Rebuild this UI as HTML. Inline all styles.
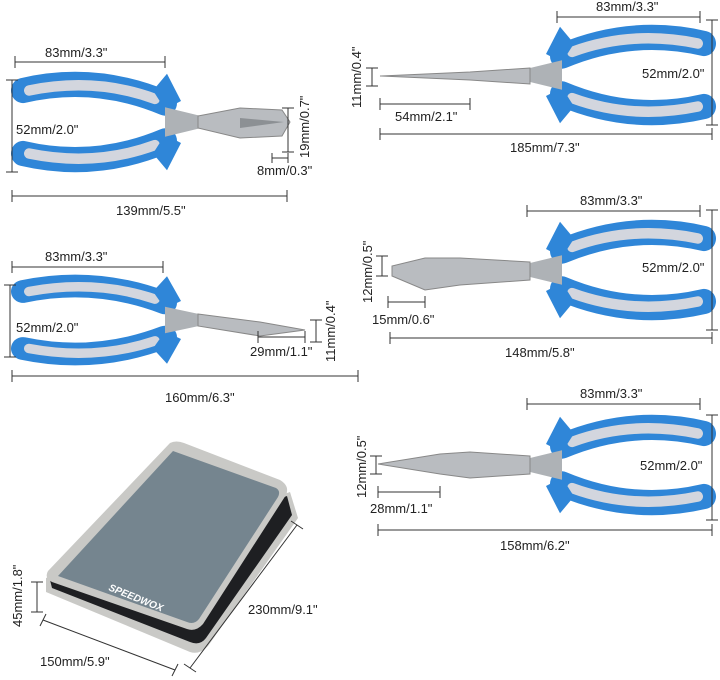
<!DOCTYPE html>
<html><head><meta charset="utf-8"><style>
html,body{margin:0;padding:0;background:#fff}
svg{display:block}
text{font-family:"Liberation Sans",sans-serif;font-size:13px;fill:#222}
.d{stroke:#333;stroke-width:1;fill:none}
</style></head><body>
<svg width="720" height="680" viewBox="0 0 720 680" xmlns="http://www.w3.org/2000/svg">
<defs>
<g id="pl">
 <path d="M8,-30 Q80,-46 150,-18" stroke="#2f86d8" stroke-width="24" fill="none" stroke-linecap="round"/>
 <path d="M14,-30 Q80,-43 140,-22" stroke="#d3d6de" stroke-width="10" fill="none" stroke-linecap="round"/>
 <path d="M8,30 Q80,46 150,18" stroke="#2f86d8" stroke-width="24" fill="none" stroke-linecap="round"/>
 <path d="M14,30 Q80,43 140,22" stroke="#d3d6de" stroke-width="10" fill="none" stroke-linecap="round"/>
 <path d="M138,-30 L152,-46 L166,-20 L150,-12Z" fill="#2f86d8"/>
 <path d="M138,30 L152,46 L166,20 L150,12Z" fill="#2f86d8"/>
 <path d="M150,-14 L185,-6 L185,6 L150,14Z" fill="#aeb2b6"/>
</g>
</defs>

<use href="#pl" transform="translate(15,122) scale(1,1.05)"/>
<path d="M198,116 L240,108 L282,110 L290,122 L282,136 L240,138 L198,128Z" fill="#b9bcc0" stroke="#888" stroke-width="1"/>
<path d="M240,118 L284,122 L240,128Z" fill="#8c9094"/>
<use href="#pl" transform="translate(15,320) scale(1,0.95)"/>
<path d="M198,314 L260,322 L305,330 L260,336 L198,326Z" fill="#b9bcc0" stroke="#888" stroke-width="1"/>
<use href="#pl" transform="translate(712,75) scale(-1,1.05)"/>
<path d="M530,68 L470,72 L380,76 L470,80 L530,84Z" fill="#b9bcc0" stroke="#888" stroke-width="1"/>
<use href="#pl" transform="translate(712,270) scale(-1,1.05)"/>
<path d="M530,262 L460,258 L425,258 L392,266 L392,276 L425,290 L460,285 L530,280Z" fill="#b9bcc0" stroke="#888" stroke-width="1"/>
<use href="#pl" transform="translate(712,465) scale(-1,1.05)"/>
<path d="M530,456 L470,452 L440,454 L378,464 L440,474 L470,478 L530,474Z" fill="#b9bcc0" stroke="#888" stroke-width="1"/>

<!-- Case -->
<path d="M46,578 L46,592 L190,652 Q200,655 208,646 L298,518 L290,492 Z" fill="#c9c9c6"/>
<path d="M50,580 L52,588 L190,642 Q200,646 206,638 L292,515 L287,496 Z" fill="#1e1f22"/>
<path d="M170,443 Q176,440 184,443 L280,480 Q290,486 286,495 L203,624 Q196,632 187,629 L52,582 Q44,578 48,571Z" fill="#c9c9c6"/>
<path d="M173,451 L276,488 Q281,491 278,497 L199,619 Q194,625 187,622 L58,576 Z" fill="#75858f"/>
<text x="108" y="590" transform="rotate(22 108 590)" style="font-size:10px;font-weight:bold;font-style:italic;fill:#fff">SPEEDWOX</text>

<g class="d">
<path d="M15,62H165M15,56v12M165,56v12"/>
<path d="M12,80V172M6,80h12M6,172h12"/>
<path d="M288,108V152M282,108h12M282,152h12"/>
<path d="M272,158h16M272,153v10M288,153v10"/>
<path d="M12,196H287M12,190v12M287,190v12"/>
<path d="M557,17H700M557,11v12M700,11v12"/>
<path d="M372,68V86M366,68h12M366,86h12"/>
<path d="M712,20V125M706,20h12M706,125h12"/>
<path d="M380,104H470M380,98v12M470,98v12"/>
<path d="M380,134H712M380,128v12M712,128v12"/>
<path d="M12,267H163M12,261v12M163,261v12"/>
<path d="M10,285V357M4,285h12M4,357h12"/>
<path d="M316,320V342M310,320h12M310,342h12"/>
<path d="M258,337H305M258,331v12M305,331v12"/>
<path d="M12,376H358M12,370v12M358,370v12"/>
<path d="M527,211H700M527,205v12M700,205v12"/>
<path d="M382,256V276M376,256h12M376,276h12"/>
<path d="M712,210V330M706,210h12M706,330h12"/>
<path d="M388,302H425M388,296v12M425,296v12"/>
<path d="M390,338H712M390,332v12M712,332v12"/>
<path d="M527,404H700M527,398v12M700,398v12"/>
<path d="M376,456V474M370,456h12M370,474h12"/>
<path d="M712,415V520M706,415h12M706,520h12"/>
<path d="M378,492H440M378,486v12M440,486v12"/>
<path d="M378,530H712M378,524v12M712,524v12"/>
<path d="M37,582V612M31,582h12M31,612h12"/>
<path d="M43,620L175,670M40,626l6,-12M172,676l6,-12"/>
<path d="M190,668L297,525M184,664l12,8M291,521l12,8"/>
</g>

<text x="45" y="57">83mm/3.3"</text>
<text x="16" y="134">52mm/2.0"</text>
<text transform="translate(309,158) rotate(-90)">19mm/0.7"</text>
<text x="257" y="175">8mm/0.3"</text>
<text x="116" y="215">139mm/5.5"</text>
<text x="596" y="11">83mm/3.3"</text>
<text transform="translate(361,108) rotate(-90)">11mm/0.4"</text>
<text x="642" y="78">52mm/2.0"</text>
<text x="395" y="121">54mm/2.1"</text>
<text x="510" y="152">185mm/7.3"</text>
<text x="45" y="261">83mm/3.3"</text>
<text x="16" y="332">52mm/2.0"</text>
<text transform="translate(335,362) rotate(-90)">11mm/0.4"</text>
<text x="250" y="356">29mm/1.1"</text>
<text x="165" y="402">160mm/6.3"</text>
<text x="580" y="205">83mm/3.3"</text>
<text transform="translate(372,303) rotate(-90)">12mm/0.5"</text>
<text x="642" y="272">52mm/2.0"</text>
<text x="372" y="324">15mm/0.6"</text>
<text x="505" y="357">148mm/5.8"</text>
<text x="580" y="398">83mm/3.3"</text>
<text transform="translate(366,498) rotate(-90)">12mm/0.5"</text>
<text x="640" y="470">52mm/2.0"</text>
<text x="370" y="513">28mm/1.1"</text>
<text x="500" y="550">158mm/6.2"</text>
<text transform="translate(22,627) rotate(-90)">45mm/1.8"</text>
<text x="40" y="666">150mm/5.9"</text>
<text x="248" y="614">230mm/9.1"</text>
</svg>
</body></html>
